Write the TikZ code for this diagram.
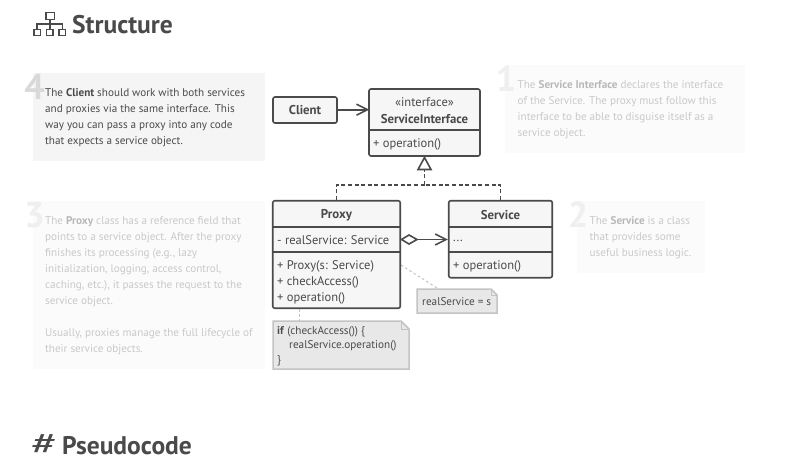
\documentclass[tikz,border=0pt]{standalone}
\usepackage{fontspec}
\setmainfont{PT Sans}
\usetikzlibrary{arrows.meta,positioning}
\definecolor{ink}{HTML}{4A4A4A}
\definecolor{boxfill}{HTML}{F6F6F6}
\definecolor{notefill}{HTML}{E8E8E8}
\definecolor{noteline}{HTML}{C4C4C4}
\definecolor{panelon}{HTML}{F5F5F5}
\definecolor{paneloff}{HTML}{FBFBFB}
\definecolor{txtoff}{HTML}{C9C9C9}
\definecolor{boldoff}{HTML}{B8B8B8}
\definecolor{numon}{HTML}{D9D9D9}
\definecolor{numoff}{HTML}{EFEFEF}
\newcommand{\fs}[2]{\fontsize{#1}{#2}\selectfont}
\tikzset{
  x=1pt,y=-1pt,
  umlbox/.style={draw=ink,line width=1.6pt,rounded corners=2pt,fill=boxfill,inner sep=0pt,text=ink},
  divider/.style={draw=ink,line width=1.6pt},
  assoc/.style={draw=ink,line width=1.6pt},
  realize/.style={draw=ink,line width=1.2pt,dash pattern=on 4pt off 2.6pt},
  title/.style={inner sep=0pt,anchor=center,text=ink,font=\fs{12.8}{15}\bfseries},
  member/.style={inner sep=0pt,anchor=west,text=ink,font=\fs{12.5}{16}},
  paraon/.style={anchor=north west,inner sep=0pt,align=left,text=ink,font=\fs{11.15}{16}},
  paraoff/.style={anchor=north west,inner sep=0pt,align=left,text=txtoff,font=\fs{11.15}{16}},
  bignum/.style={inner sep=0pt,anchor=center,font=\fs{36}{36}\bfseries},
  heading/.style={anchor=west,inner sep=0pt,text=ink,font=\fs{25.5}{28}\bfseries},
  notebox/.style={draw=noteline,line width=1.5pt,fill=notefill},
  notetext/.style={inner sep=0pt,anchor=west,text=ink,font=\fs{11.2}{14.5},align=left},
  noteline/.style={draw=noteline,line width=1pt,dash pattern=on 2.5pt off 2.5pt},
  iconline/.style={draw=ink,line width=1.7pt},
}
\newcommand{\onb}[1]{\textbf{#1}}
\newcommand{\offb}[1]{\textcolor{boldoff}{\textbf{#1}}}
\begin{document}
\begin{tikzpicture}
\useasboundingbox (0,0) rectangle (800,461);
\fill[white] (0,0) rectangle (800,461);

% section heads
\begin{scope}[iconline]
  \draw (46,12.5) rectangle (54.5,19.5);
  \draw (50,19.5) -- (50,29);
  \draw (37,29) -- (37,24) -- (62.5,24) -- (62.5,29);
  \draw (34,29.5) rectangle (40.5,35.5);
  \draw (46.5,29.5) rectangle (53,35.5);
  \draw (59,29.5) rectangle (65.5,35.5);
\end{scope}
\node[heading] (h1) at (72,24.5) {Structure};
\node[inner sep=0pt,text=ink,font=\fs{31}{31}] (hash) at (44.5,445) {\scalebox{1.6}[1]{\#}};
\node[heading] (h2) at (62,446) {Pseudocode};

% panels
\fill[panelon] (33,73) rectangle (265,161);
\fill[paneloff] (505,65) rectangle (745,153);
\fill[paneloff] (577,201) rectangle (705,273);
\fill[paneloff] (33,201) rectangle (265,369);

\node[bignum,text=numon] (n4) at (34.5,87) {4};
\node[bignum,text=numoff] (n1) at (506,79) {1};
\node[bignum,text=numoff] (n2) at (578,215) {2};
\node[bignum,text=numoff] (n3) at (34.5,215) {3};

\node[paraon] (p4) at (45,88.5) {The \onb{Client} should work with both services\\and proxies via the same interface. This\\way you can pass a proxy into any code\\that expects a service object.};
\node[paraoff] (p1) at (517.5,80.5) {The \offb{Service Interface} declares the interface\\of the Service. The proxy must follow this\\interface to be able to disguise itself as a\\service object.};
\node[paraoff] (p2) at (589.5,216.5) {The \offb{Service} is a class\\that provides some\\useful business logic.};
\node[paraoff] (p3) at (45,216.5) {The \offb{Proxy} class has a reference field that\\points to a service object. After the proxy\\finishes its processing (e.g., lazy\\initialization, logging, access control,\\caching, etc.), it passes the request to the\\service object.\\[16pt]Usually, proxies manage the full lifecycle of\\their service objects.};

% notes connectors (under the notes)
\coordinate (noteAstart) at (401,265);
\coordinate (noteAend) at (437,288);
\coordinate (noteBstart) at (299,309);
\coordinate (noteBend) at (299,321);
\draw[noteline] (noteAstart) -- (noteAend);
\draw[noteline] (noteBstart) -- (noteBend);

% UML boxes
\node[umlbox,minimum width=64pt,minimum height=26pt,font=\fs{12.8}{15}\bfseries] (client) at (305,110) {Client};
\node[umlbox,minimum width=111pt,minimum height=67pt] (si) at (424.5,122.5) {};
\draw[divider] (369,130) -- (480,130);
\node[inner sep=0pt,text=ink,font=\fs{12.5}{15}] (sistereo) at (424.5,102.5) {«interface»};
\node[title] (siname) at (424.5,119) {ServiceInterface};
\node[member] (siop) at (373,144) {+ operation()};

\node[umlbox,minimum width=127.5pt,minimum height=107.5pt] (proxy) at (336.5,254.5) {};
\draw[divider] (273,227) -- (400,227);
\draw[divider] (273,252) -- (400,252);
\node[title] (proxyname) at (336.5,215) {Proxy};
\node[member] (proxyf) at (277,240.5) {- realService: Service};
\node[member] (proxym1) at (277,266.5) {+ Proxy(s: Service)};
\node[member] (proxym2) at (277,282.5) {+ checkAccess()};
\node[member] (proxym3) at (277,298.5) {+ operation()};

\node[umlbox,minimum width=103.5pt,minimum height=77pt] (svc) at (500.5,239.2) {};
\draw[divider] (449,227) -- (552,227);
\draw[divider] (449,252) -- (552,252);
\node[title] (svcname) at (500.5,215) {Service};
\node[member] (svcf) at (453,241) {...};
\node[member] (svcm) at (453,266.5) {+ operation()};

% connectors
\draw[assoc,-{Straight Barb[length=11pt,width=11pt,line width=1.6pt]}] (client.east) ++(0,-0.3) -- ++(31.5,0);
\coordinate (junction) at (424.5,185);
\draw[realize] (proxy.north) |- (junction);
\draw[realize] (svc.north) |- (junction);
\draw[realize] (junction) -- (424.5,169.5);
\draw[draw=ink,line width=1.6pt,fill=white,line join=miter] (424.5,157.5) -- (431,169.5) -- (418,169.5) -- cycle;
\draw[assoc,-{Straight Barb[length=11pt,width=11pt,line width=1.6pt]}] (417,239.5) -- (svc.west |- 0,239.5);
\draw[draw=ink,line width=1.6pt,fill=white] (401.5,239.5) -- (409,235) -- (417,239.5) -- (409,244) -- cycle;

% note: realService = s
\draw[notebox] (417,289) -- (491,289) -- (497,295) -- (497,313) -- (417,313) -- cycle;
\draw[draw=noteline,line width=0.8pt] (491,289) -- (491,295) -- (497,295);
\node[notetext] (notea) at (422,301.5) {realService = s};

% note: code
\draw[notebox] (273,321) -- (401,321) -- (409,329) -- (409,369) -- (273,369) -- cycle;
\draw[draw=noteline,line width=0.8pt] (401,321) -- (401,329) -- (409,329);
\node[notetext] (noteb1) at (277,331.5) {\textbf{if} (checkAccess()) \{};
\node[notetext] (noteb2) at (289,346) {realService.operation()};
\node[notetext] (noteb3) at (277,360.5) {\}};
\end{tikzpicture}
\end{document}
